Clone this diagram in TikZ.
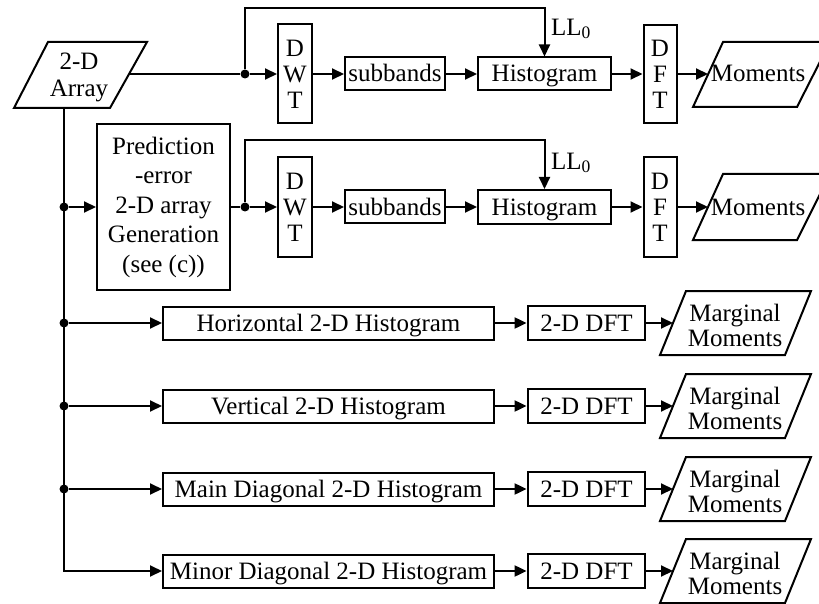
\documentclass[tikz,border=0pt]{standalone}
\usepackage{fontspec}
\setmainfont{Liberation Serif}
\usetikzlibrary{arrows.meta,calc}
\begin{document}
\begin{tikzpicture}[x=1pt,y=-1pt,
  every node/.style={font=\fontsize{25}{29}\selectfont, inner sep=0pt},
  blk/.style 2 args={draw, line width=2pt, minimum width=#1, minimum height=#2, align=center},
  sl/.style={text height=19pt, text depth=3pt},
  lnk/.style={line width=2pt, -{Triangle[length=12pt,width=11pt]}},
  wire/.style={line width=2pt},
  dot/.style={circle, fill, minimum size=9pt, inner sep=0pt},
  para/.style={line width=2pt, line join=miter},
  stack/.style={font=\fontsize{25}{26}\selectfont}
]
\useasboundingbox (0,0) rectangle (819,604);

% ---------- top row ----------
\draw[para] (48,42) -- (147,42) -- (110,108) -- (14,108) -- cycle;
\node[align=center, font=\fontsize{25}{27}\selectfont] (arr) at (79,77) {2-D\\Array};
\coordinate (arrR) at (129,74);
\coordinate (arrB) at (64,108);

\node[dot] (j1) at (245,74) {};
\node[blk={34pt}{99pt}, stack] (dwt1) at (295,74) {D\\W\\T};
\node[blk={100pt}{33pt}, sl] (sb1) at (395,74) {subbands};
\node[blk={133pt}{33pt}, sl] (hist1) at (544.5,74) {Histogram};
\node[blk={33pt}{98pt}, stack] (dft1) at (660,74) {D\\F\\T};
\draw[para] (723,42) -- (830,42) -- (797,107) -- (693,107) -- cycle;
\node[sl] (mom1) at (758,74) {Moments};
\coordinate (mom1L) at (708,74);
\coordinate (fb1) at (400,8);
\node (ll1) at (571,29) {LL\textsubscript{0}};

\draw[wire] (arrR) -- (j1);
\draw[lnk] (j1) -- (dwt1);
\draw[lnk] (dwt1) -- (sb1);
\draw[lnk] (sb1) -- (hist1);
\draw[lnk] (hist1) -- (dft1);
\draw[lnk] (dft1) -- (mom1L);
\draw[lnk] (j1) |- (fb1) -| (hist1);

% ---------- second row ----------
\node[blk={133pt}{165pt}, font=\fontsize{25}{29.5}\selectfont] (pred) at (163.5,207) {Prediction\\-error\\2-D array\\Generation\\(see (c))};
\node[dot] (j0) at (64,207) {};
\node[dot] (j2) at (245,207) {};
\node[blk={34pt}{99pt}, stack] (dwt2) at (295,207) {D\\W\\T};
\node[blk={100pt}{33pt}, sl] (sb2) at (395,207) {subbands};
\node[blk={133pt}{34pt}, sl] (hist2) at (544.5,207) {Histogram};
\node[blk={33pt}{99pt}, stack] (dft2) at (660,207) {D\\F\\T};
\draw[para] (723,174) -- (830,174) -- (797,240) -- (693,240) -- cycle;
\node[sl] (mom2) at (758,207) {Moments};
\coordinate (mom2L) at (708,207);
\coordinate (fb2) at (400,140);
\node (ll2) at (571,163) {LL\textsubscript{0}};

\draw[lnk] (j0) -- (pred);
\draw[wire] (pred) -- (j2);
\draw[lnk] (j2) -- (dwt2);
\draw[lnk] (dwt2) -- (sb2);
\draw[lnk] (sb2) -- (hist2);
\draw[lnk] (hist2) -- (dft2);
\draw[lnk] (dft2) -- (mom2L);
\draw[lnk] (j2) |- (fb2) -| (hist2);

% ---------- lower rows ----------
\foreach \n/\y/\t in {h/323/Horizontal 2-D Histogram, v/406/Vertical 2-D Histogram, d/489/Main Diagonal 2-D Histogram, m/571/Minor Diagonal 2-D Histogram} {
  \node[blk={331pt}{33pt}, sl] (mh\n) at (328.5,\y) {\t};
  \node[blk={117pt}{34pt}, sl, line width=2.8pt] (md\n) at (586.5,\y) {2-D DFT};
  \draw[para] (686,\y-32) -- (811,\y-32) -- (785,\y+32) -- (660,\y+32) -- cycle;
  \node[align=center, font=\fontsize{25}{25}\selectfont] (mm\n) at (735,\y+2) {Marginal\\Moments};
  \coordinate (mmL\n) at (673,\y);
  \draw[lnk] (mh\n) -- (md\n);
  \draw[lnk] (md\n) -- (mmL\n);
}

\node[dot] (jh) at (64,323) {};
\node[dot] (jv) at (64,406) {};
\node[dot] (jd) at (64,489) {};
\draw[lnk] (jh) -- (mhh);
\draw[lnk] (jv) -- (mhv);
\draw[lnk] (jd) -- (mhd);
\draw[lnk] (arrB) |- (mhm);
\end{tikzpicture}
\end{document}
